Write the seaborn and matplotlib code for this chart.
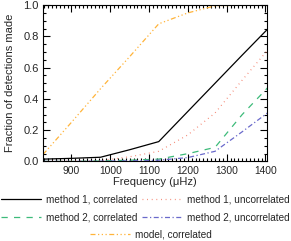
import pandas as pd
import matplotlib
matplotlib.use('Agg')
import matplotlib.pyplot as plt
import seaborn as sns
from matplotlib.ticker import MultipleLocator

# data
freq = [827, 900, 975, 1050, 1125, 1200, 1270, 1340, 1405]
m1_corr = [0.015, 0.02, 0.027, 0.075, 0.127, 0.32, 0.50, 0.68, 0.845]
m1_uncorr = [0.0, 0.002, 0.005, 0.03, 0.065, 0.17, 0.31, 0.52, 0.71]
m2_corr = [0.0, 0.0, 0.003, 0.008, 0.015, 0.05, 0.09, 0.30, 0.47]
m2_uncorr = [0.0, 0.0, 0.002, 0.004, 0.008, 0.025, 0.065, 0.19, 0.31]
model_corr = [0.045, 0.25, 0.465, 0.67, 0.88, 0.95, 0.995, 1.0, 1.0]

labels = ['method 1, correlated', 'method 1, uncorrelated',
          'method 2, correlated', 'method 2, uncorrelated',
          'model, correlated']
series = [m1_corr, m1_uncorr, m2_corr, m2_uncorr, model_corr]
colors = ['black', '#f4826e', '#3dbb7a', '#6a6acb', '#ffb43a']
dashes = [None, (0.7, 3.0), (5, 5), (4, 2, 1, 2), (4, 2, 1, 2, 1, 2, 1, 2)]

sns.set_style('ticks')
plt.rcParams['font.family'] = ['Liberation Sans', 'DejaVu Sans']

fig = plt.figure(figsize=(2.91, 2.41), dpi=100)
ax = fig.add_axes([0.148, 0.330, 0.771, 0.649])

handles = []
for vals, lab, c, d in zip(series, labels, colors, dashes):
    df = pd.DataFrame({'freq': freq, 'frac': vals})
    sns.lineplot(data=df, x='freq', y='frac', color=c, lw=0.9, ax=ax, label=lab)
    line = ax.get_lines()[-1]
    if d is not None:
        line.set_dashes(d)
    handles.append(line)
ax.get_legend().remove()

ax.set_xlim(827, 1405)
ax.set_ylim(0, 1.0)
ax.xaxis.set_major_locator(MultipleLocator(100))
ax.xaxis.set_minor_locator(MultipleLocator(10))
ax.yaxis.set_major_locator(MultipleLocator(0.2))
ax.yaxis.set_minor_locator(MultipleLocator(0.05))
ax.yaxis.set_major_formatter(plt.FuncFormatter(lambda v, p: f'{v:.1f}'))
ax.tick_params(which='both', direction='in', top=True, right=True, width=0.8, color='black')
ax.tick_params(axis='x', labelsize=7.4)
ax.tick_params(axis='y', labelsize=8)
ax.tick_params(which='major', length=5, pad=3)
ax.tick_params(which='minor', length=2.5)
for s in ax.spines.values():
    s.set_linewidth(0.8)
    s.set_color('black')

ax.set_xlabel('Frequency (\u03bcHz)', fontsize=8, labelpad=1)
ax.set_ylabel('Fraction of detections made', fontsize=8, labelpad=6)

leg_kw = dict(frameon=False, fontsize=7.2, handlelength=4.0, handletextpad=0.5,
              borderaxespad=0, borderpad=0)
leg1 = fig.legend([handles[0], handles[2], handles[1], handles[3]],
                  [labels[0], labels[2], labels[1], labels[3]],
                  ncol=2, loc='upper center', bbox_to_anchor=(0.5, 0.192),
                  columnspacing=0.5, labelspacing=0.75, **leg_kw)
leg2 = fig.legend([handles[4]], [labels[4]], loc='upper center',
                  bbox_to_anchor=(0.52, 0.048), **leg_kw)

fig.savefig('out.png', dpi=100)
